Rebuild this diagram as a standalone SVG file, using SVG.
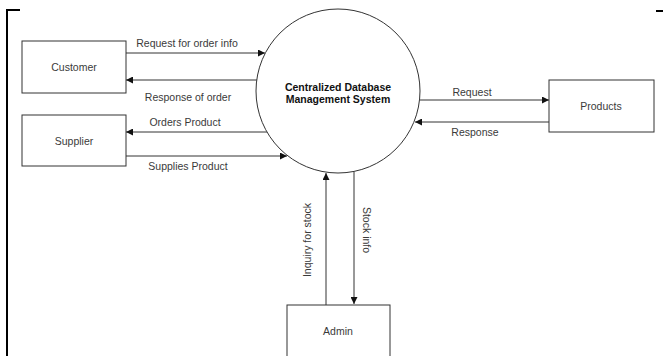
<svg xmlns="http://www.w3.org/2000/svg" width="663" height="356" viewBox="0 0 663 356">
<style>
.box{fill:#fff;stroke:#333;stroke-width:1}
.ln{stroke:#333;stroke-width:1;fill:none;marker-end:url(#ah)}
.t{font-family:"Liberation Sans",Arial,sans-serif;font-size:10.5px;fill:#3a3a3a}
.tc{text-anchor:middle}
.b{font-weight:bold;fill:#111}
</style>
<defs>
<marker id="ah" viewBox="0 0 10 10" refX="10" refY="5" markerWidth="8" markerHeight="7" markerUnits="userSpaceOnUse" orient="auto">
<path d="M0,0 L10,5 L0,10 z" fill="#111"/>
</marker>
</defs>
<rect width="663" height="356" fill="#fff"/>
<g id="frame" fill="none" stroke="#000" stroke-width="2">
<path d="M7,356 V10 H20"/>
<path d="M656,11 H663"/>
</g>
<g id="connectors">
<line class="ln" x1="126" y1="53" x2="265" y2="53"/>
<line class="ln" x1="257" y1="80" x2="126" y2="80"/>
<line class="ln" x1="267" y1="132" x2="126" y2="132"/>
<line class="ln" x1="126" y1="156" x2="287" y2="156"/>
<line class="ln" x1="420" y1="100" x2="549" y2="100"/>
<line class="ln" x1="549" y1="122" x2="415" y2="122"/>
<line class="ln" x1="326" y1="305" x2="326" y2="173"/>
<line class="ln" x1="354" y1="172" x2="354" y2="304"/>
<text class="t tc" x="187" y="47">Request for order info</text>
<text class="t tc" x="188" y="101">Response of order</text>
<text class="t tc" x="185" y="126">Orders Product</text>
<text class="t tc" x="188" y="170">Supplies Product</text>
<text class="t tc" x="472" y="96">Request</text>
<text class="t tc" x="475" y="136">Response</text>
<text class="t tc" transform="translate(311,240) rotate(-90)">Inquiry for stock</text>
<text class="t tc" transform="translate(363,230) rotate(90)">Stock info</text>
</g>
<g id="customer">
<rect class="box" x="22" y="41" width="104" height="52"/>
<text class="t tc" x="74" y="71">Customer</text>
</g>
<g id="supplier">
<rect class="box" x="22" y="115" width="104" height="51"/>
<text class="t tc" x="74" y="145">Supplier</text>
</g>
<g id="cdbms">
<circle cx="338" cy="91" r="82" fill="#fff" stroke="#333" stroke-width="1"/>
<text class="t tc b" x="338" y="91">Centralized Database</text>
<text class="t tc b" x="338" y="103">Management System</text>
</g>
<g id="products">
<rect class="box" x="549" y="80" width="105" height="52"/>
<text class="t tc" x="601" y="110">Products</text>
</g>
<g id="admin">
<rect class="box" x="287" y="305" width="103" height="60"/>
<text class="t tc" x="338" y="335">Admin</text>
</g>
</svg>
